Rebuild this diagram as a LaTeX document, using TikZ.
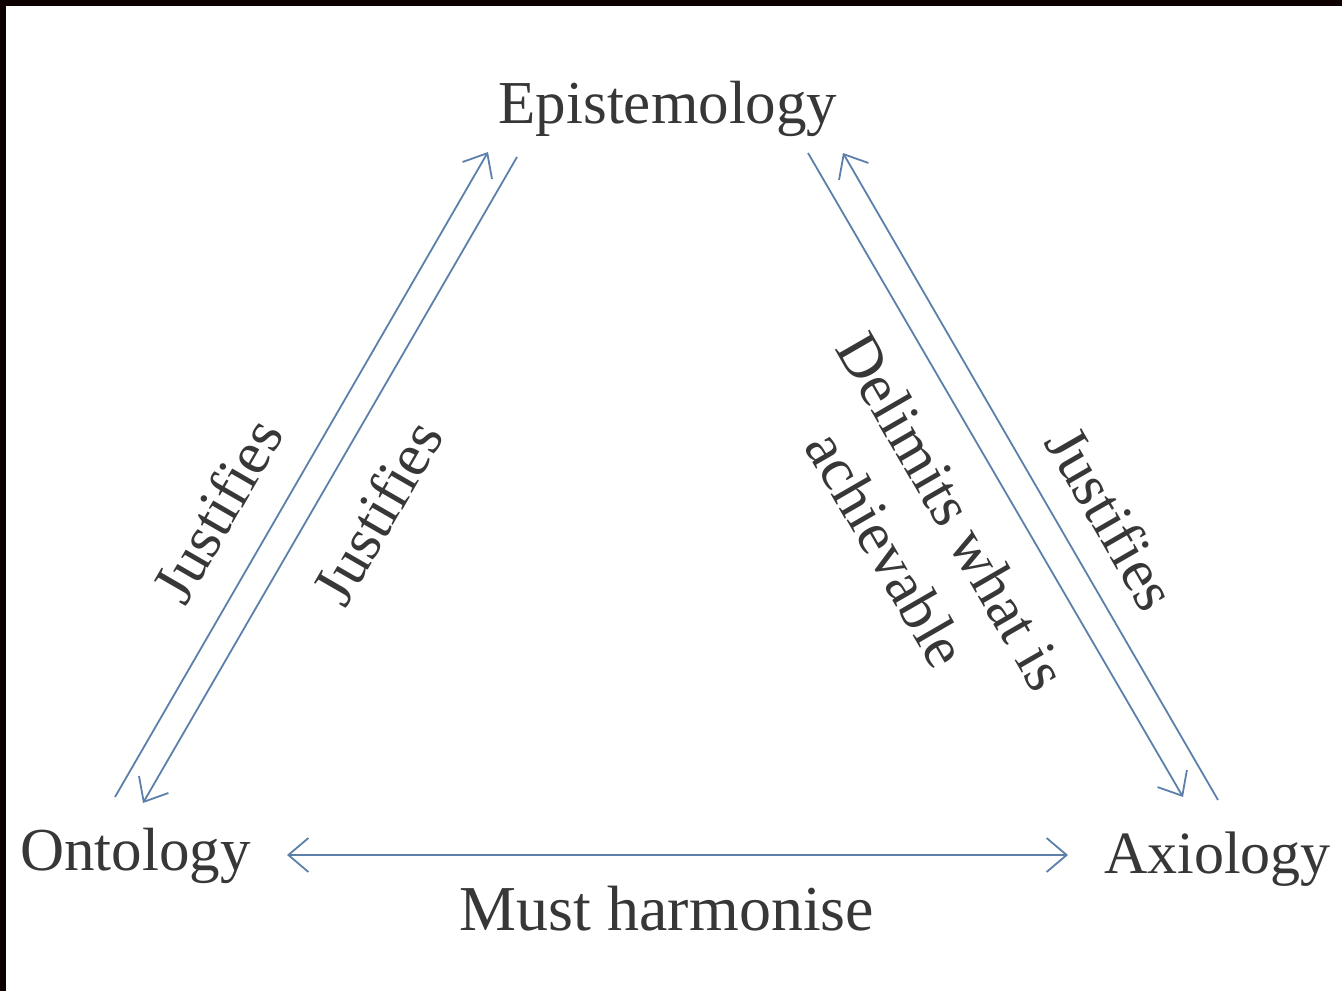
\documentclass[tikz,border=0pt]{standalone}
\usepackage{fontspec}
\setmainfont{Liberation Serif}
\usetikzlibrary{arrows.meta}
\definecolor{arrowblue}{RGB}{92,128,170}
\definecolor{textgray}{RGB}{55,55,55}
\begin{document}
\begin{tikzpicture}[x=1pt,y=-1pt,
  lbl/.style={inner sep=0pt, text=textgray, font=\fontsize{61}{72}\selectfont},
  rlbl/.style={inner sep=0pt, text=textgray, font=\fontsize{61}{76}\selectfont, align=center},
  conn/.style={draw=arrowblue, line width=1.8pt, -{Straight Barb[length=20pt,width=34pt,line width=1.8pt]}},
  dconn/.style={draw=arrowblue, line width=1.8pt, {Straight Barb[length=20pt,width=34pt,line width=1.8pt]}-{Straight Barb[length=20pt,width=34pt,line width=1.8pt]}}]
\useasboundingbox (0,0) rectangle (1342,991);
\fill[white] (0,0) rectangle (1342,991);
\fill[black!95!red] (0,0) rectangle (1342,6);
\fill[black!95!red] (0,0) rectangle (6,991);

\node[lbl, anchor=base] (epi) at (668,123) {Epistemology};
\node[lbl, anchor=base west] (ont) at (20,870) {Ontology};
\node[lbl, anchor=base west, font=\fontsize{60}{72}\selectfont] (axi) at (1104,873) {Axiology};

\coordinate (l1s) at (115,797);
\coordinate (l1e) at (488,152);
\coordinate (l2s) at (517,157);
\coordinate (l2e) at (143,803);
\coordinate (r1s) at (808,153);
\coordinate (r1e) at (1183,797);
\coordinate (r2s) at (1218,800);
\coordinate (r2e) at (843,153);
\coordinate (bs) at (287,855);
\coordinate (be) at (1068,855);

\draw[conn] (l1s) -- (l1e);
\draw[conn] (l2s) -- (l2e);
\draw[conn] (r1s) -- (r1e);
\draw[conn] (r2s) -- (r2e);
\draw[dconn] (bs) -- (be);

\node[rlbl, rotate=60] (j1) at (217,510) {Justifies};
\node[rlbl, rotate=60] (j2) at (377,512) {Justifies};
\node[rlbl, rotate=-60] (j3) at (1112,518) {Justifies};
\node[rlbl, rotate=-60] (del) at (920,530) {Delimits what is\\achievable};
\node[lbl, anchor=base, font=\fontsize{64}{72}\selectfont] (must) at (667,930) {Must harmonise};
\end{tikzpicture}
\end{document}
